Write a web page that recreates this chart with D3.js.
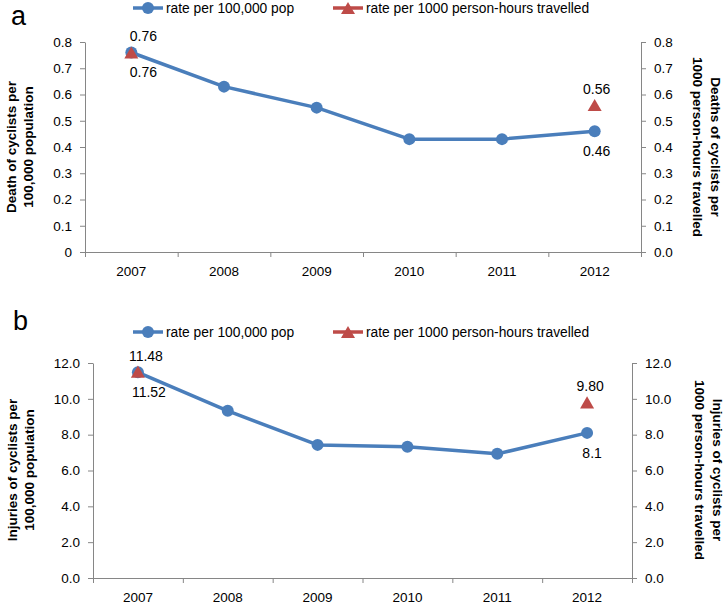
<!DOCTYPE html>
<html>
<head>
<meta charset="utf-8">
<script src="https://cdn.jsdelivr.net/npm/d3@7"></script>
<style>
  body { margin: 0; background: #fff; }
  svg { display: block; font-family: "Liberation Sans", Arial, sans-serif; }
</style>
</head>
<body>
<svg id="chart" width="725" height="604"></svg>
<script>
// Data
const years = ["2007", "2008", "2009", "2010", "2011", "2012"];
const deathsPerPop = [0.76, 0.63, 0.55, 0.43, 0.43, 0.46];
const deathsPerHours = [0.76, null, null, null, null, 0.56];
const injuriesPerPop = [11.48, 9.33, 7.43, 7.32, 6.93, 8.1];
const injuriesPerHours = [11.52, null, null, null, null, 9.80];
const deathTicks = [0, 0.1, 0.2, 0.3, 0.4, 0.5, 0.6, 0.7, 0.8];
const injuryTicks = [0, 2, 4, 6, 8, 10, 12];
const seriesNames = ["rate per 100,000 pop", "rate per 1000 person-hours travelled"];

const blue = "#4A7EBB", red = "#BE4B48", grey = "#868686";
const svg = d3.select("#chart");
const triangle = d3.symbol().type(d3.symbolTriangle).size(85);

function drawPanel(o) {
  const g = svg.append("g");

  const x = d3.scaleBand().domain(years).range([o.left, o.right]);
  const edges = d3.scaleLinear().domain([0, years.length]).range([o.left, o.right]);
  const y = d3.scaleLinear().domain([0, o.max]).range([o.bottom, o.top]);
  const cx = i => x(years[i]) + x.bandwidth() / 2;

  // panel letter
  g.append("text")
    .attr("x", o.letterX).attr("y", o.letterY)
    .attr("font-size", 27)
    .text(o.letter);

  // legend
  const legend = g.append("g").attr("transform", "translate(0," + o.legendY + ")");
  [[133, blue, "circle"], [333, red, "tri"]].forEach(([lx, col, m], k) => {
    legend.append("line")
      .attr("x1", lx).attr("x2", lx + 30)
      .attr("stroke", col).attr("stroke-width", 3.5);
    if (m === "circle") {
      legend.append("circle").attr("cx", lx + 15).attr("r", 6).attr("fill", col);
    } else {
      legend.append("path").attr("d", triangle)
        .attr("transform", "translate(" + (lx + 15) + ",2)").attr("fill", col);
    }
    legend.append("text")
      .attr("x", lx + 33).attr("y", 5)
      .attr("font-size", 13.8)
      .text(seriesNames[k]);
  });

  // left axis
  const leftAxis = g.append("g")
    .attr("transform", "translate(" + o.left + ",0)")
    .call(d3.axisLeft(y).tickValues(o.ticks).tickFormat(o.leftFmt)
      .tickSize(5).tickSizeOuter(0).tickPadding(8));

  // right axis
  const rightAxis = g.append("g")
    .attr("transform", "translate(" + o.right + ",0)")
    .call(d3.axisRight(y).tickValues(o.ticks).tickFormat(o.rightFmt)
      .tickSize(5).tickSizeOuter(0).tickPadding(8));

  // x axis: tick marks between categories
  const xTicks = g.append("g")
    .attr("transform", "translate(0," + o.bottom + ")")
    .call(d3.axisBottom(edges).tickValues(d3.range(years.length + 1)).tickFormat("")
      .tickSize(5).tickSizeOuter(0));

  const xLabels = g.append("g")
    .attr("transform", "translate(0," + o.bottom + ")")
    .call(d3.axisBottom(x).tickSize(0).tickPadding(14));
  xLabels.select(".domain").remove();

  [leftAxis, rightAxis, xTicks].forEach(a => {
    a.selectAll(".domain, line").attr("stroke", grey);
  });
  [leftAxis, rightAxis, xLabels].forEach(a => {
    a.selectAll("text").attr("font-size", 13.5).attr("fill", "#000")
      .attr("font-family", "Liberation Sans, Arial, sans-serif");
  });

  // axis titles
  const tl = g.append("text")
    .attr("transform", "translate(" + o.leftTitleX + "," + o.titleY + ") rotate(-90)")
    .attr("text-anchor", "middle").attr("font-weight", "bold").attr("font-size", 13.5);
  o.leftTitle.forEach((t, k) => tl.append("tspan").attr("x", 0).attr("dy", k ? 17 : 0).text(t));

  const tr = g.append("text")
    .attr("transform", "translate(" + o.rightTitleX + "," + o.titleY + ") rotate(90)")
    .attr("text-anchor", "middle").attr("font-weight", "bold").attr("font-size", 13.5);
  o.rightTitle.forEach((t, k) => tr.append("tspan").attr("x", 0).attr("dy", k ? 18 : 0).text(t));

  // per-population series: line + circles
  const line = d3.line().x((d, i) => cx(i)).y(d => y(d));
  g.append("path").datum(o.pop)
    .attr("d", line)
    .attr("fill", "none").attr("stroke", blue).attr("stroke-width", 3.5)
    .attr("stroke-linejoin", "round");
  g.selectAll(null).data(o.pop).join("circle")
    .attr("cx", (d, i) => cx(i)).attr("cy", d => y(d))
    .attr("r", 6).attr("fill", blue);

  // per-hours series: triangles only
  const hours = o.hours.map((v, i) => ({ v, i })).filter(d => d.v != null);
  g.selectAll(null).data(hours).join("path")
    .attr("d", triangle)
    .attr("transform", d => "translate(" + cx(d.i) + "," + (y(d.v) + 2) + ")")
    .attr("fill", red);

  // data labels
  o.labels.forEach(l => {
    const v = (l.s === "pop" ? o.pop : o.hours)[l.i];
    g.append("text")
      .attr("x", cx(l.i) + l.dx)
      .attr("y", y(v) + (l.pos === "above" ? -16 : 20))
      .attr("dy", "0.35em")
      .attr("text-anchor", "middle")
      .attr("font-size", 14)
      .text(d3.format(l.fmt)(v));
  });
}

drawPanel({
  letter: "a", letterX: 11, letterY: 25,
  legendY: 8,
  left: 85, right: 641, top: 42, bottom: 252, max: 0.8,
  ticks: deathTicks,
  leftFmt: d => d === 0 ? "0" : d3.format(".1f")(d),
  rightFmt: d3.format(".1f"),
  pop: deathsPerPop, hours: deathsPerHours,
  titleY: 147, leftTitleX: 16, rightTitleX: 711,
  leftTitle: ["Death of cyclists per", "100,000 population"],
  rightTitle: ["Deaths of cyclists per", "1000 person-hours travelled"],
  labels: [
    { s: "pop", i: 0, pos: "above", dx: 12, fmt: ".2f" },
    { s: "hours", i: 0, pos: "below", dx: 12, fmt: ".2f" },
    { s: "hours", i: 5, pos: "above", dx: 2, fmt: ".2f" },
    { s: "pop", i: 5, pos: "below", dx: 2, fmt: ".2f" }
  ]
});

drawPanel({
  letter: "b", letterX: 13, letterY: 330,
  legendY: 332,
  left: 93, right: 632, top: 363, bottom: 578, max: 12,
  ticks: injuryTicks,
  leftFmt: d3.format(".1f"),
  rightFmt: d3.format(".1f"),
  pop: injuriesPerPop, hours: injuriesPerHours,
  titleY: 470, leftTitleX: 17, rightTitleX: 713,
  leftTitle: ["Injuries of cyclists per", "100,000 population"],
  rightTitle: ["Injuries of cyclists per", "1000 person-hours travelled"],
  labels: [
    { s: "pop", i: 0, pos: "above", dx: 8, fmt: ".2f" },
    { s: "hours", i: 0, pos: "below", dx: 11, fmt: ".2f" },
    { s: "hours", i: 5, pos: "above", dx: 3, fmt: ".2f" },
    { s: "pop", i: 5, pos: "below", dx: 5, fmt: ".1f" }
  ]
});
</script>
</body>
</html>
